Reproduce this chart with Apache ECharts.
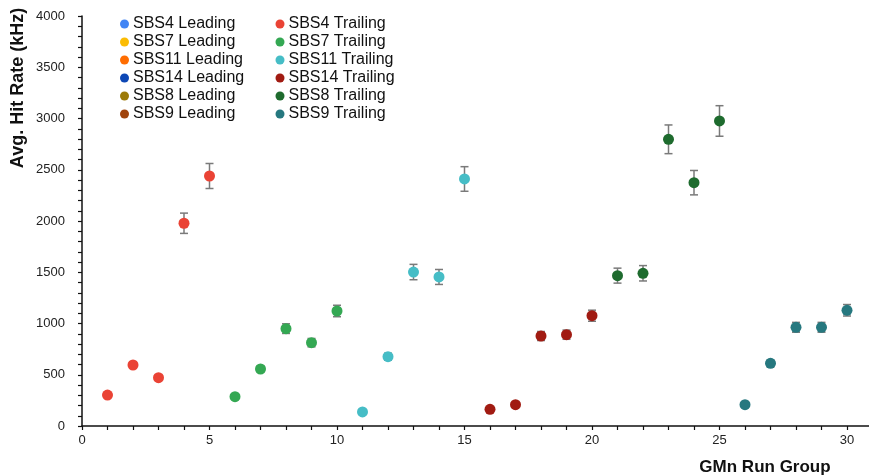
<!DOCTYPE html>
<html>
<head>
<meta charset="utf-8">
<script src="https://cdn.jsdelivr.net/npm/echarts@6/dist/echarts.min.js"></script>
<style>
  html, body { margin: 0; padding: 0; background: #fff; }
  #chart { width: 869px; height: 475px; }
</style>
</head>
<body>
<div id="chart"></div>
<script>
// Average hit rate (kHz) per GMn run group, trailing-edge hits per SBS kinematic.
const sbs4Runs = [1, 2, 3, 4, 5];
const sbs4Rate = [302, 595, 471, 1978, 2439];
const sbs4Err  = [15, 30, 24, 99, 122];

const sbs7Runs = [6, 7, 8, 9, 10];
const sbs7Rate = [286, 556, 950, 813, 1122];
const sbs7Err  = [14, 28, 47, 41, 56];

const sbs11Runs = [11, 12, 13, 14, 15];
const sbs11Rate = [137, 676, 1502, 1454, 2410];
const sbs11Err  = [7, 34, 75, 73, 120];

const sbs14Runs = [16, 17, 18, 19, 20];
const sbs14Rate = [163, 208, 878, 891, 1076];
const sbs14Err  = [8, 10, 44, 45, 54];

const sbs8Runs = [21, 22, 23, 24, 25];
const sbs8Rate = [1467, 1490, 2797, 2374, 2976];
const sbs8Err  = [73, 75, 140, 119, 149];

const sbs9Runs = [26, 27, 28, 29, 30];
const sbs9Rate = [208, 611, 963, 963, 1129];
const sbs9Err  = [10, 31, 48, 48, 56];

const leadingNames  = ['SBS4 Leading', 'SBS7 Leading', 'SBS11 Leading', 'SBS14 Leading', 'SBS8 Leading', 'SBS9 Leading'];
const trailingNames = ['SBS4 Trailing', 'SBS7 Trailing', 'SBS11 Trailing', 'SBS14 Trailing', 'SBS8 Trailing', 'SBS9 Trailing'];

const leadingColors  = ['#4285f4', '#fbbc04', '#ff6d01', '#0d47b5', '#9c7a08', '#a0440c'];
const trailingColors = ['#ea4335', '#34a853', '#46bdc6', '#a11b12', '#1e6b2e', '#26787f'];

const trailingSets = [
  [sbs4Runs, sbs4Rate, sbs4Err],
  [sbs7Runs, sbs7Rate, sbs7Err],
  [sbs11Runs, sbs11Rate, sbs11Err],
  [sbs14Runs, sbs14Rate, sbs14Err],
  [sbs8Runs, sbs8Rate, sbs8Err],
  [sbs9Runs, sbs9Rate, sbs9Err]
];

const font = 'Liberation Sans, Arial, sans-serif';

// Vertical error bar with short caps
function renderErrorBar(params, api) {
  const x = api.value(0);
  const lo = api.coord([x, api.value(1)]);
  const hi = api.coord([x, api.value(2)]);
  const cap = 4;
  const style = { stroke: '#7a7a7a', lineWidth: 1.5 };
  return {
    type: 'group',
    children: [
      { type: 'line', shape: { x1: lo[0], y1: lo[1], x2: hi[0], y2: hi[1] }, style: style },
      { type: 'line', shape: { x1: lo[0] - cap, y1: lo[1], x2: lo[0] + cap, y2: lo[1] }, style: style },
      { type: 'line', shape: { x1: hi[0] - cap, y1: hi[1], x2: hi[0] + cap, y2: hi[1] }, style: style }
    ]
  };
}

const series = [];

// Leading-edge entries (legend only)
leadingNames.forEach((name, i) => {
  series.push({
    name: name,
    type: 'scatter',
    symbolSize: 11,
    itemStyle: { color: leadingColors[i], opacity: 1 },
    data: []
  });
});

// Error bars, drawn beneath the markers
trailingSets.forEach(([runs, rate, err]) => {
  series.push({
    type: 'custom',
    renderItem: renderErrorBar,
    silent: true,
    z: 1,
    data: runs.map((r, k) => [r, rate[k] - err[k], rate[k] + err[k]])
  });
});

// Trailing-edge markers
trailingSets.forEach(([runs, rate], i) => {
  series.push({
    name: trailingNames[i],
    type: 'scatter',
    symbolSize: 11,
    z: 3,
    itemStyle: { color: trailingColors[i], opacity: 1 },
    data: runs.map((r, k) => [r, rate[k]])
  });
});

const legendCommon = {
  orient: 'vertical',
  top: 16,
  padding: 0,
  icon: 'circle',
  itemWidth: 9,
  itemHeight: 9,
  itemGap: 2,
  selectedMode: false,
  textStyle: { fontFamily: font, fontSize: 16, color: '#111', lineHeight: 16, padding: [0, 0, 0, -1] }
};

const chart = echarts.init(document.getElementById('chart'), null, { renderer: 'canvas' });
chart.setOption({
  animation: false,
  backgroundColor: '#ffffff',
  grid: {
    left: 82,
    width: 790.5,
    top: 16,
    bottom: 49,
    containLabel: false,
    outerBoundsMode: 'none'
  },
  legend: [
    Object.assign({ left: 120, data: leadingNames }, legendCommon),
    Object.assign({ left: 275.5, data: trailingNames }, legendCommon)
  ],
  xAxis: {
    type: 'value',
    min: 0,
    max: 31,
    interval: 1,
    splitLine: { show: false },
    axisLine: { onZero: false, lineStyle: { color: '#111', width: 1.5 } },
    axisTick: { length: 4, lineStyle: { color: '#111', width: 1.2 } },
    axisLabel: {
      margin: 8,
      fontFamily: font,
      fontSize: 13,
      color: '#222',
      formatter: v => (v % 5 === 0 ? String(v) : '')
    }
  },
  yAxis: {
    type: 'value',
    min: 0,
    max: 4000,
    interval: 100,
    splitLine: { show: false },
    axisLine: { show: true, lineStyle: { color: '#111', width: 1.5 } },
    axisTick: { show: true, length: 4, lineStyle: { color: '#111', width: 1.2 } },
    axisLabel: {
      margin: 17,
      fontFamily: font,
      fontSize: 13,
      color: '#222',
      formatter: v => (v % 500 === 0 ? String(v) : '')
    }
  },
  graphic: [
    {
      type: 'text',
      x: 18,
      y: 88,
      rotation: Math.PI / 2,
      style: {
        text: 'Avg. Hit Rate (kHz)',
        font: 'bold 18px ' + font,
        fill: '#111',
        textAlign: 'center',
        textVerticalAlign: 'middle'
      }
    },
    {
      type: 'text',
      x: 765,
      y: 467,
      style: {
        text: 'GMn Run Group',
        font: 'bold 17px ' + font,
        fill: '#111',
        textAlign: 'center',
        textVerticalAlign: 'middle'
      }
    }
  ],
  series: series
});
</script>
</body>
</html>
